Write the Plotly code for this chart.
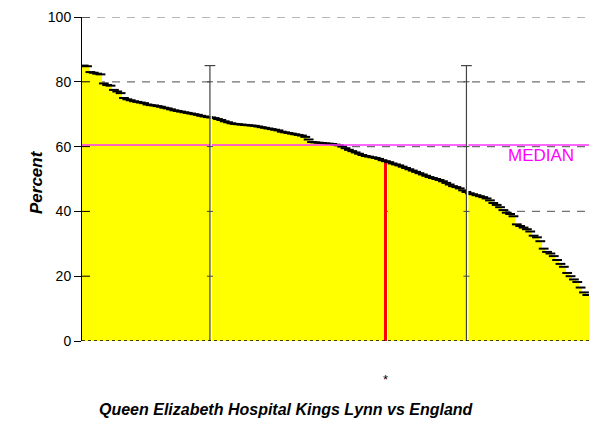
import plotly.graph_objects as go

# Percent values for each trust, sorted descending
values = [
    85.0, 84.8, 83.0, 82.8, 82.5, 82.3, 79.5, 79.0, 78.8, 77.5,
    77.0, 76.5, 75.0, 74.6, 74.3, 74.0, 73.8, 73.6, 73.4, 73.0,
    72.8, 72.7, 72.5, 72.3, 72.0, 71.8, 71.5, 71.2, 71.0, 70.8,
    70.6, 70.4, 70.2, 70.0, 69.8, 69.5, 69.3, 69.1, 69.0, 68.8,
    68.5, 68.2, 67.8, 67.5, 67.2, 67.0, 66.9, 66.8, 66.7, 66.6,
    66.5, 66.4, 66.2, 66.0, 65.8, 65.6, 65.4, 65.2, 65.0, 64.6,
    64.4, 64.2, 64.0, 63.8, 63.6, 63.4, 63.0, 62.2, 61.4, 61.3,
    61.2, 61.1, 61.0, 60.9, 60.8, 60.6, 60.4, 60.0, 59.5, 59.0,
    58.6, 58.2, 57.8, 57.4, 57.1, 56.9, 56.7, 56.5, 56.2, 55.8,
    55.5, 55.2, 54.8, 54.5, 54.2, 53.8, 53.4, 53.0, 52.6, 52.2,
    51.8, 51.4, 51.0, 50.6, 50.3, 50.0, 49.7, 49.3, 48.8, 48.3,
    47.8, 47.5, 47.1, 46.5, 46.0, 45.6, 45.3, 45.0, 44.7, 44.4,
    44.0, 43.4, 42.6, 42.0, 41.3, 40.4, 39.6, 39.2, 38.5, 36.0,
    35.5, 35.0, 34.5, 33.8, 32.5, 32.0, 30.8, 28.5, 27.5, 27.0,
    26.2, 25.0, 23.8, 22.9, 21.0, 20.0, 19.0, 18.2, 16.5, 15.0,
    14.2,
]
highlight_index = 90
median_value = 60.5
marker_positions = [37.6, 114.0]   # vertical reference lines (bar index units)
marker_top = 85.0
y_ticks = [0, 20, 40, 60, 80, 100]
grid_values = [40, 60, 80, 100]
title_text = "Queen Elizabeth Hospital Kings Lynn vs England"
y_title = "Percent"
median_label = "MEDIAN"

n = len(values)
xs = list(range(n))
colors = ["#FF0000" if i == highlight_index else "#FFFF00" for i in xs]
FONT = "Liberation Sans, Arial, sans-serif"

fig = go.Figure()
fig.add_trace(go.Bar(
    x=xs, y=values, marker=dict(color=colors, line=dict(width=0)),
    width=[0.9 if i == highlight_index else 1.0 for i in xs],
    hoverinfo="y", showlegend=False,
))
fig.add_trace(go.Scatter(
    x=xs, y=values, mode="markers",
    marker=dict(symbol="line-ew-open", size=7, color="black",
                line=dict(width=2, color="black")),
    showlegend=False, hoverinfo="skip",
))

shapes = []
for g in grid_values:
    shapes.append(dict(type="line", xref="paper", yref="y", x0=0, x1=1, y0=g, y1=g,
                       line=dict(color="#707070", width=1.2, dash="8px,7px"), layer="below"))
# median line
shapes.append(dict(type="line", xref="paper", yref="y", x0=0, x1=1,
                   y0=median_value, y1=median_value,
                   line=dict(color="#FF33FF", width=1.5), layer="above"))
# vertical reference lines
for xp in marker_positions:
    shapes.append(dict(type="line", xref="x", yref="y", x0=xp + 0.35, x1=xp + 0.35, y0=0, y1=marker_top,
                       line=dict(color="white", width=1.5), layer="above"))
    shapes.append(dict(type="line", xref="x", yref="y", x0=xp, x1=xp, y0=0, y1=marker_top,
                       line=dict(color="#444444", width=1.2), layer="above"))
    shapes.append(dict(type="line", xref="x", yref="y", x0=xp - 1.6, x1=xp + 1.6,
                       y0=marker_top, y1=marker_top,
                       line=dict(color="#444444", width=1.2), layer="above"))
    for t in [20, 40, 60, 80]:
        shapes.append(dict(type="line", xref="x", yref="y", x0=xp - 0.9, x1=xp + 0.9, y0=t, y1=t,
                           line=dict(color="#444444", width=1), layer="above"))
# inside parts of y ticks
for t in y_ticks[1:]:
    shapes.append(dict(type="line", xref="paper", yref="y", x0=0, x1=8 / 507, y0=t, y1=t,
                       line=dict(color="black", width=1), layer="above"))
# dotted baseline
shapes.append(dict(type="line", xref="paper", yref="y", x0=0, x1=1, y0=0, y1=0,
                   line=dict(color="black", width=1.5, dash="dot"), layer="above"))

annotations = [
    dict(text=median_label, xref="paper", yref="y", x=(541 - 82) / 507, y=median_value,
         xanchor="center", yshift=-11, showarrow=False,
         font=dict(color="#FF00FF", size=17, family=FONT)),
    dict(text="<b><i>" + y_title + "</i></b>", xref="paper", yref="paper",
         x=(36 - 82) / 507, y=(341 - 182) / 324, xanchor="center", yanchor="middle",
         textangle=-90, showarrow=False,
         font=dict(size=17, color="black", family=FONT)),
    dict(text="<b><i>" + title_text + "</i></b>", xref="paper", yref="paper",
         x=(286 - 82) / 507, y=-(409 - 341) / 324, xanchor="center", yanchor="middle",
         showarrow=False, font=dict(size=16, color="black", family=FONT)),
    dict(text="*", xref="x", yref="paper", x=highlight_index, y=-(379 - 341) / 324,
         xanchor="center", yanchor="middle", showarrow=False,
         font=dict(size=13, color="black", family=FONT)),
]

fig.update_layout(
    width=589, height=423,
    margin=dict(l=82, r=0, t=17, b=82),
    paper_bgcolor="white", plot_bgcolor="white",
    bargap=0,
    shapes=shapes, annotations=annotations,
    font=dict(family=FONT, size=13, color="black"),
    xaxis=dict(range=[-0.5, n - 0.5], showticklabels=False, showgrid=False,
               zeroline=False, showline=False, ticks=""),
    yaxis=dict(range=[0, 100], tickvals=y_ticks, ticks="outside", ticklen=7,
               tickcolor="black", showline=True, linecolor="black", linewidth=1,
               showgrid=False, zeroline=False, tickfont=dict(size=14)),
)

fig.write_html("out.html", config={"displayModeBar": False},
               post_script="document.body.style.margin='0';document.body.style.overflow='hidden';")
